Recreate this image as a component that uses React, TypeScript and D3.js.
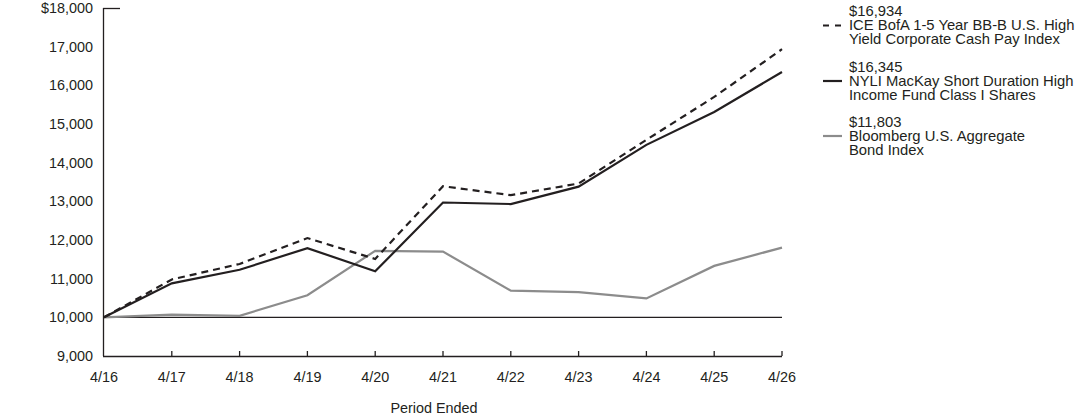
import React, { useEffect, useRef } from 'react';
import * as d3 from 'd3';

const periods = ['4/16', '4/17', '4/18', '4/19', '4/20', '4/21', '4/22', '4/23', '4/24', '4/25', '4/26'];

const iceBofA = [10000, 10980, 11380, 12050, 11510, 13390, 13160, 13460, 14590, 15700, 16934];
const nyliFund = [10000, 10880, 11230, 11790, 11190, 12970, 12930, 13380, 14460, 15310, 16345];
const bloomberg = [10000, 10070, 10040, 10570, 11720, 11700, 10690, 10650, 10490, 11330, 11803];

const yTicks = [9000, 10000, 11000, 12000, 13000, 14000, 15000, 16000, 17000, 18000];

const legendItems = [
  { value: '$16,934', lines: ['ICE BofA 1-5 Year BB-B U.S. High', 'Yield Corporate Cash Pay Index'], color: '#231f20', dash: '6,6' },
  { value: '$16,345', lines: ['NYLI MacKay Short Duration High', 'Income Fund Class I Shares'], color: '#231f20', dash: null },
  { value: '$11,803', lines: ['Bloomberg U.S. Aggregate', 'Bond Index'], color: '#8c8c8c', dash: null },
];

export default function App() {
  const svgRef = useRef<SVGSVGElement>(null);

  useEffect(() => {
    if (!svgRef.current) return;
    const svg = d3.select(svgRef.current);
    svg.selectAll('*').remove();

    const font = '"Liberation Sans", Arial, sans-serif';
    const ink = '#231f20';
    const fs = 14.4;

    const x = d3.scalePoint<string>().domain(periods).range([104, 782]);
    const y = d3.scaleLinear().domain([9000, 18000]).range([356, 8]);

    const g = svg.append('g').attr('font-family', font);

    // y axis line and the short cap at the top
    g.append('line')
      .attr('x1', 103.5).attr('x2', 103.5)
      .attr('y1', y(18000)).attr('y2', y(9000))
      .attr('stroke', ink).attr('stroke-width', 1.3);
    g.append('line')
      .attr('x1', 103).attr('x2', 120)
      .attr('y1', y(18000) + 0.5).attr('y2', y(18000) + 0.5)
      .attr('stroke', ink).attr('stroke-width', 1.3);

    // y tick labels
    g.append('g')
      .selectAll('text')
      .data(yTicks)
      .enter()
      .append('text')
      .attr('x', 93)
      .attr('y', d => y(d))
      .attr('dy', '0.35em')
      .attr('text-anchor', 'end')
      .attr('font-size', fs)
      .attr('fill', ink)
      .text(d => (d === 18000 ? '$' : '') + d3.format(',')(d));

    // x axis with small upward ticks
    g.append('line')
      .attr('x1', 103).attr('x2', 782)
      .attr('y1', y(9000) + 0.5).attr('y2', y(9000) + 0.5)
      .attr('stroke', ink).attr('stroke-width', 1.3);
    g.append('g')
      .selectAll('line')
      .data(periods.slice(1))
      .enter()
      .append('line')
      .attr('x1', d => x(d)!).attr('x2', d => x(d)!)
      .attr('y1', y(9000) - 5).attr('y2', y(9000))
      .attr('stroke', ink).attr('stroke-width', 1.3);
    g.append('g')
      .selectAll('text')
      .data(periods)
      .enter()
      .append('text')
      .attr('x', d => x(d)!)
      .attr('y', 382)
      .attr('text-anchor', 'middle')
      .attr('font-size', fs)
      .attr('fill', ink)
      .text(d => d);

    g.append('text')
      .attr('x', 434)
      .attr('y', 413)
      .attr('text-anchor', 'middle')
      .attr('font-size', fs)
      .attr('fill', ink)
      .text('Period Ended');

    // $10,000 baseline
    g.append('line')
      .attr('x1', 104).attr('x2', 782)
      .attr('y1', y(10000)).attr('y2', y(10000))
      .attr('stroke', ink).attr('stroke-width', 1.3);

    const line = d3.line<number>()
      .x((_, i) => x(periods[i])!)
      .y(d => y(d));

    const series = [
      { data: bloomberg, color: '#8c8c8c', dash: null },
      { data: nyliFund, color: ink, dash: null },
      { data: iceBofA, color: ink, dash: '7,5' },
    ];
    series.forEach(s => {
      g.append('path')
        .attr('d', line(s.data))
        .attr('fill', 'none')
        .attr('stroke', s.color)
        .attr('stroke-width', 2.2)
        .attr('stroke-dasharray', s.dash)
        .attr('stroke-linejoin', 'miter');
    });

    // legend: value line, then two label lines
    const legend = g.append('g');
    const baselines = [16, 71.5, 126.5];
    legendItems.forEach((item, i) => {
      const b = baselines[i];
      legend.append('text')
        .attr('x', 849).attr('y', b)
        .attr('font-size', 14.8).attr('fill', ink)
        .text(item.value);
      item.lines.forEach((t, j) => {
        legend.append('text')
          .attr('x', 849).attr('y', b + 14 + j * 14)
          .attr('font-size', 14.8).attr('fill', ink)
          .text(t);
      });
      legend.append('line')
        .attr('x1', 823).attr('x2', 842)
        .attr('y1', b + 9.5).attr('y2', b + 9.5)
        .attr('stroke', item.color).attr('stroke-width', 2.2)
        .attr('stroke-dasharray', item.dash);
    });
  }, []);

  return (
    <svg
      ref={svgRef}
      width={1092}
      height={417}
      style={{ position: 'absolute', left: 0, top: 0, background: '#fff' }}
    />
  );
}
